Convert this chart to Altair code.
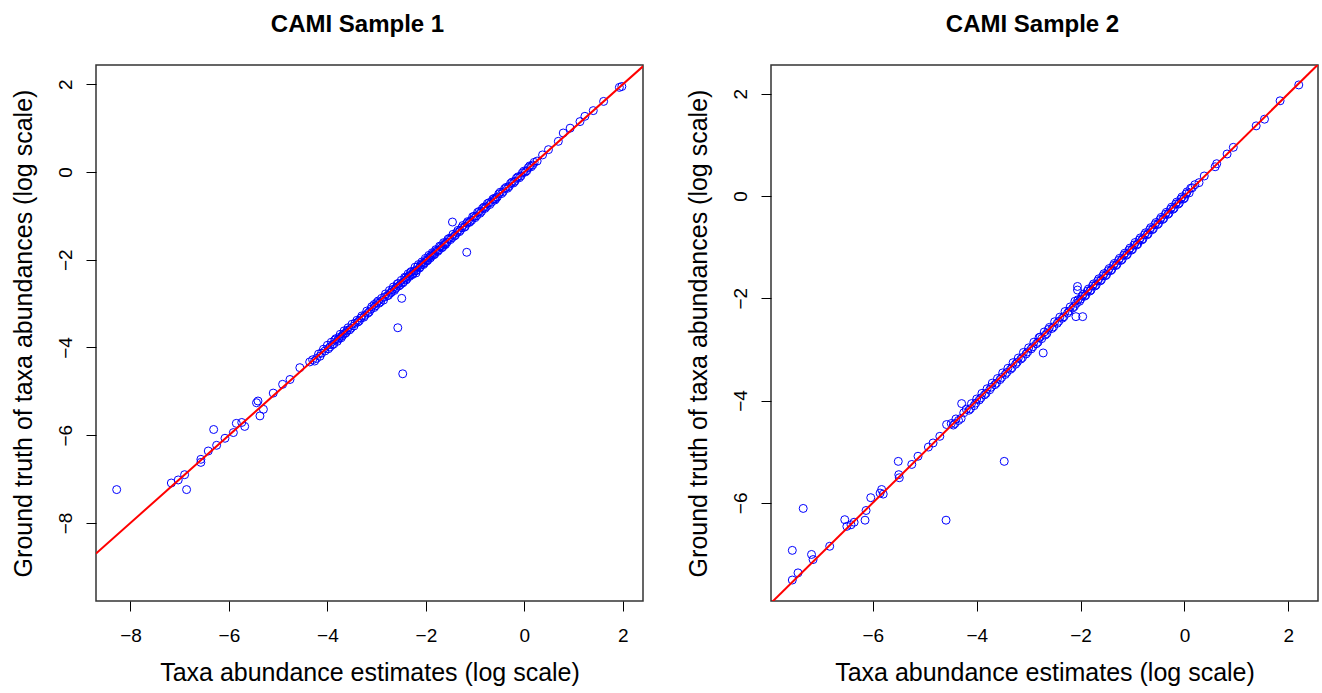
import altair as alt
import pandas as pd

FONT = "Liberation Sans"

# ---------------- Sample 1 (estimate, truth) ----------------
s1_x = [-8.28, -7.17, -7.03, -6.90, -6.86, -6.57, -6.57, -6.42, -6.31, -6.25, -6.08,
        -5.91, -5.85, -5.74, -5.68, -5.44, -5.41, -5.37, -5.30, -5.10, -4.91, -4.76,
        -4.56, -4.36,
        -4.30, -4.22, -4.18, -4.12, -4.05, -4.00, -3.95, -3.92, -3.87, -3.83, -3.78,
        -3.74, -3.70, -3.66, -3.62, -3.58, -3.55, -3.50, -3.46, -3.40, -3.35, -3.30,
        -3.26, -3.20, -3.15, -3.10, -3.05, -3.00, -2.95, -2.90, -2.86, -2.82, -2.78,
        -2.74, -2.70, -2.66, -2.62, -2.58, -2.55, -2.50, -2.47, -2.43, -2.40, -2.36,
        -2.33, -2.30, -2.26, -2.22, -2.19, -2.15, -2.12, -2.08, -2.05, -2.01, -1.98,
        -1.94, -1.91, -1.87, -1.84, -1.80, -1.76, -1.72, -1.68, -1.64, -1.60, -1.55,
        -1.50, -1.45, -1.40, -1.35, -1.30, -1.25, -1.20, -1.15, -1.10, -1.05, -1.00,
        -0.95, -0.90, -0.85, -0.80, -0.75, -0.70, -0.64, -0.58, -0.52, -0.46, -0.40,
        -0.34, -0.28, -0.22, -0.16, -0.10, -0.04, 0.02, 0.08, 0.14, 0.20, 0.26,
        0.37, 0.49, 0.69, 0.79, 0.93, 1.13, 1.23, 1.40, 1.61, 1.93, 1.98,
        -1.46, -1.17, -2.49, -2.57, -2.47, -2.20, -1.62, -3.05, -0.60]
s1_y = [-7.24, -7.09, -7.02, -6.90, -7.24, -6.55, -6.62, -6.36, -5.87, -6.23, -6.07,
        -5.94, -5.73, -5.71, -5.80, -5.26, -5.22, -5.56, -5.41, -5.04, -4.84, -4.73,
        -4.46, -4.33,
        -4.28, -4.25, -4.15, -4.13, -4.08, -3.95, -3.99, -3.88, -3.92, -3.80, -3.81,
        -3.70, -3.74, -3.62, -3.66, -3.55, -3.60, -3.47, -3.51, -3.38, -3.39, -3.28,
        -3.31, -3.17, -3.19, -3.07, -3.09, -2.98, -2.99, -2.88, -2.92, -2.78, -2.82,
        -2.70, -2.74, -2.62, -2.66, -2.55, -2.60, -2.47, -2.53, -2.40, -2.46, -2.32,
        -2.38, -2.27, -2.32, -2.17, -2.24, -2.11, -2.17, -2.05, -2.11, -1.97, -2.03,
        -1.90, -1.96, -1.84, -1.89, -1.77, -1.81, -1.69, -1.73, -1.61, -1.65, -1.53,
        -1.54, -1.42, -1.44, -1.33, -1.33, -1.22, -1.24, -1.13, -1.13, -1.02, -1.04,
        -0.92, -0.94, -0.83, -0.83, -0.72, -0.74, -0.62, -0.61, -0.50, -0.49, -0.38,
        -0.37, -0.26, -0.25, -0.14, -0.13, -0.02, 0.00, 0.10, 0.12, 0.22, 0.25,
        0.39, 0.51, 0.70, 0.89, 1.00, 1.15, 1.27, 1.40, 1.61, 1.93, 1.95,
        -1.14, -1.83, -2.88, -3.55, -4.60, -2.30, -1.66, -3.02, -0.64]

# more taxa in the dense band of sample 1
s1b_x = [-4.26, -4.15, -4.08, -3.98, -3.90, -3.85, -3.80, -3.76, -3.72, -3.68,
         -3.64, -3.60, -3.52, -3.44, -3.38, -3.32, -3.24, -3.18, -3.12, -3.02,
         -2.97, -2.92, -2.84, -2.76, -2.72, -2.68, -2.64, -2.60, -2.56, -2.52,
         -2.45, -2.41, -2.38, -2.34, -2.31, -2.28, -2.24, -2.20, -2.17, -2.13,
         -2.10, -2.06, -2.03, -1.99, -1.96, -1.92, -1.89, -1.85, -1.82, -1.78,
         -1.74, -1.70, -1.66, -1.62, -1.57, -1.52, -1.47, -1.42, -1.37, -1.32,
         -1.27, -1.22, -1.17, -1.12, -1.07, -1.02, -0.97, -0.92, -0.87, -0.82,
         -0.77, -0.72, -0.67, -0.61, -0.55, -0.49, -0.43, -0.37, -0.31, -0.25,
         -0.19, -0.13, -0.07, -0.01, 0.05, 0.11, 0.17]
s1b_y = [-4.31, -4.20, -4.04, -4.03, -3.94, -3.83, -3.86, -3.77, -3.78, -3.70,
         -3.68, -3.61, -3.56, -3.45, -3.42, -3.33, -3.27, -3.22, -3.13, -3.05,
         -2.94, -2.96, -2.85, -2.81, -2.76, -2.68, -2.70, -2.63, -2.54, -2.57,
         -2.50, -2.41, -2.43, -2.36, -2.29, -2.34, -2.26, -2.25, -2.16, -2.19,
         -2.12, -2.08, -2.08, -2.00, -2.01, -1.93, -1.92, -1.86, -1.87, -1.79,
         -1.78, -1.70, -1.71, -1.63, -1.60, -1.51, -1.50, -1.46, -1.38, -1.36,
         -1.27, -1.26, -1.17, -1.15, -1.10, -1.01, -1.00, -0.90, -0.90, -0.80,
         -0.79, -0.70, -0.69, -0.60, -0.57, -0.46, -0.45, -0.35, -0.33, -0.23,
         -0.21, -0.11, -0.09, 0.02, 0.03, 0.14, 0.16]

# ---------------- Sample 2 (estimate, truth) ----------------
s2_x = [-7.55, -7.44, -7.55, -7.34, -7.18, -7.15, -6.83, -6.54, -6.50, -6.42, -6.36,
        -6.15, -6.13, -6.04, -5.86, -5.83, -5.80, -5.51, -5.50, -5.49, -5.25, -5.13,
        -4.93, -4.84, -4.71, -4.58, -4.49, -4.29, -4.59, -3.47, -2.72,
        -4.45, -4.40, -4.35, -4.20, -4.15, -4.10, -4.05, -4.00, -3.95, -3.90, -3.85,
        -3.80, -3.75, -3.70, -3.65, -3.60, -3.55, -3.50, -3.45, -3.40, -3.35, -3.30,
        -3.25, -3.20, -3.15, -3.10, -3.05, -3.00, -2.95, -2.90, -2.85, -2.80, -2.75,
        -2.70, -2.65, -2.60, -2.55, -2.50, -2.45, -2.40, -2.35, -2.30, -2.25, -2.20,
        -2.15, -2.05, -2.00, -1.95, -1.90, -1.85, -1.80, -1.75, -1.70, -1.65, -1.60,
        -1.55, -1.50, -1.45, -1.40, -1.35, -1.30, -1.25, -1.20, -1.15, -1.10, -1.05,
        -1.00, -0.95, -0.90, -0.85, -0.80, -0.75, -0.70, -0.65, -0.60, -0.55, -0.50,
        -0.45, -0.40, -0.35, -0.30, -0.25, -0.20, -0.15, -0.10, -0.05, 0.00, 0.05,
        0.12, 0.20, 0.28, 0.38, 0.59, 0.62, 0.82, 0.94, 1.38, 1.54, 1.84, 2.20,
        -2.06, -2.06, -2.09, -1.96, -2.11]
s2_y = [-7.51, -7.37, -6.93, -6.11, -7.01, -7.11, -6.85, -6.33, -6.46, -6.43, -6.38,
        -6.34, -6.15, -5.90, -5.81, -5.74, -5.83, -5.19, -5.45, -5.51, -5.25, -5.09,
        -4.91, -4.83, -4.70, -4.47, -4.45, -4.06, -6.34, -5.19, -3.07,
        -4.48, -4.36, -4.39, -4.17, -4.19, -4.06, -4.10, -3.97, -3.99, -3.86, -3.89,
        -3.77, -3.79, -3.66, -3.69, -3.57, -3.59, -3.46, -3.49, -3.37, -3.39, -3.26,
        -3.29, -3.17, -3.19, -3.06, -3.09, -2.97, -2.99, -2.86, -2.89, -2.77, -2.79,
        -2.66, -2.69, -2.57, -2.59, -2.46, -2.49, -2.37, -2.39, -2.26, -2.29, -2.17,
        -2.19, -2.03, -2.02, -1.92, -1.94, -1.82, -1.84, -1.72, -1.74, -1.62, -1.64,
        -1.52, -1.54, -1.42, -1.44, -1.32, -1.34, -1.22, -1.24, -1.12, -1.14, -1.02,
        -1.04, -0.91, -0.94, -0.82, -0.84, -0.72, -0.74, -0.62, -0.64, -0.52, -0.54,
        -0.42, -0.44, -0.32, -0.34, -0.22, -0.24, -0.12, -0.14, -0.02, -0.04, 0.08,
        0.15, 0.22, 0.26, 0.39, 0.57, 0.63, 0.82, 0.95, 1.37, 1.50, 1.86, 2.17,
        -1.77, -1.84, -2.36, -2.36, -2.06]

# more taxa in the dense band of sample 2
s2b_x = [-4.42, -4.30, -4.25, -4.12, -4.02, -3.92, -3.82, -3.72, -3.62, -3.52,
         -3.42, -3.32, -3.22, -3.12, -3.02, -2.92, -2.82, -2.78, -2.68, -2.62,
         -2.52, -2.42, -2.32, -2.22, -2.12, -2.08, -2.02, -1.97, -1.92, -1.87,
         -1.82, -1.77, -1.72, -1.67, -1.62, -1.57, -1.52, -1.47, -1.42, -1.37,
         -1.32, -1.27, -1.22, -1.17, -1.12, -1.07, -1.02, -0.97, -0.92, -0.87,
         -0.82, -0.77, -0.72, -0.67, -0.62, -0.57, -0.52, -0.47, -0.42, -0.37,
         -0.32, -0.27, -0.22, -0.17, -0.12, -0.07, -0.02, 0.03, 0.09, 0.15]
s2b_y = [-4.45, -4.35, -4.24, -4.16, -4.05, -3.95, -3.86, -3.74, -3.66, -3.55,
         -3.45, -3.36, -3.25, -3.16, -3.05, -2.95, -2.86, -2.76, -2.72, -2.61,
         -2.56, -2.45, -2.36, -2.25, -2.16, -2.10, -2.06, -1.96, -1.96, -1.86,
         -1.86, -1.76, -1.76, -1.66, -1.66, -1.56, -1.56, -1.46, -1.46, -1.36,
         -1.36, -1.26, -1.26, -1.16, -1.16, -1.06, -1.06, -0.96, -0.96, -0.86,
         -0.86, -0.76, -0.76, -0.66, -0.66, -0.56, -0.56, -0.46, -0.46, -0.36,
         -0.36, -0.26, -0.26, -0.16, -0.16, -0.06, -0.06, 0.04, 0.06, 0.16]

x1_domain = [-8.70, 2.41]
y1_domain = [-9.78, 2.44]
x2_domain = [-7.96, 2.57]
y2_domain = [-7.92, 2.56]
ticks1 = [-8, -6, -4, -2, 0, 2]
ticks2 = [-6, -4, -2, 0, 2]

W, H = 547, 536


def panel(xs, ys, xdom, ydom, xticks, yticks, title):
    df = pd.DataFrame({"x": xs, "y": ys})
    line_df = pd.DataFrame({"x": [xdom[0], xdom[1]], "y": [xdom[0], xdom[1]]})
    xs_ = alt.Scale(domain=xdom, nice=False, zero=False)
    ys_ = alt.Scale(domain=ydom, nice=False, zero=False)
    common = dict(grid=False, domain=False, tickSize=10, tickColor="black",
                  tickWidth=1, labelFont=FONT, labelFontSize=19, labelColor="black",
                  labelPadding=15, titleFont=FONT, titleFontSize=25,
                  titleFontWeight="normal", titleColor="black", labelFlush=False,
                  labelOverlap=False)
    xaxis = alt.Axis(values=xticks, title="Taxa abundance estimates (log scale)",
                     titlePadding=15, **common)
    yaxis = alt.Axis(values=yticks, title="Ground truth of taxa abundances (log scale)",
                     labelAngle=270, labelAlign="center", labelBaseline="alphabetic",
                     titlePadding=20, **common)
    pts = alt.Chart(df).mark_point(shape="circle", filled=False, color="#0000FF",
                                   size=64, strokeWidth=1, opacity=1, clip=True).encode(
        x=alt.X("x:Q", scale=xs_, axis=xaxis),
        y=alt.Y("y:Q", scale=ys_, axis=yaxis),
    )
    line = alt.Chart(line_df).mark_line(color="#FF0000", strokeWidth=2, clip=True).encode(
        x=alt.X("x:Q", scale=xs_),
        y=alt.Y("y:Q", scale=ys_),
    )
    return alt.layer(pts, line).properties(
        width=W, height=H,
        title=alt.TitleParams(title, font=FONT, fontSize=24, fontWeight="bold",
                              color="black", anchor="middle", baseline="alphabetic",
                              offset=9, dx=-12),
    )


p1 = panel(s1_x + s1b_x, s1_y + s1b_y, x1_domain, y1_domain, ticks1, ticks1, "CAMI Sample 1")
p2 = panel(s2_x + s2b_x, s2_y + s2b_y, x2_domain, y2_domain, ticks2, ticks2, "CAMI Sample 2")

chart = alt.hconcat(p1, p2, spacing=128, bounds="flush").properties(
    autosize=alt.AutoSizeParams(type="none"),
    padding={"left": 96, "top": 65, "right": 1322 - 96, "bottom": 693 - 65},
    background="white",
).configure_view(stroke="#333333", strokeWidth=1.5)

chart.save("out.html", embed_options={"renderer": "svg", "actions": False})
